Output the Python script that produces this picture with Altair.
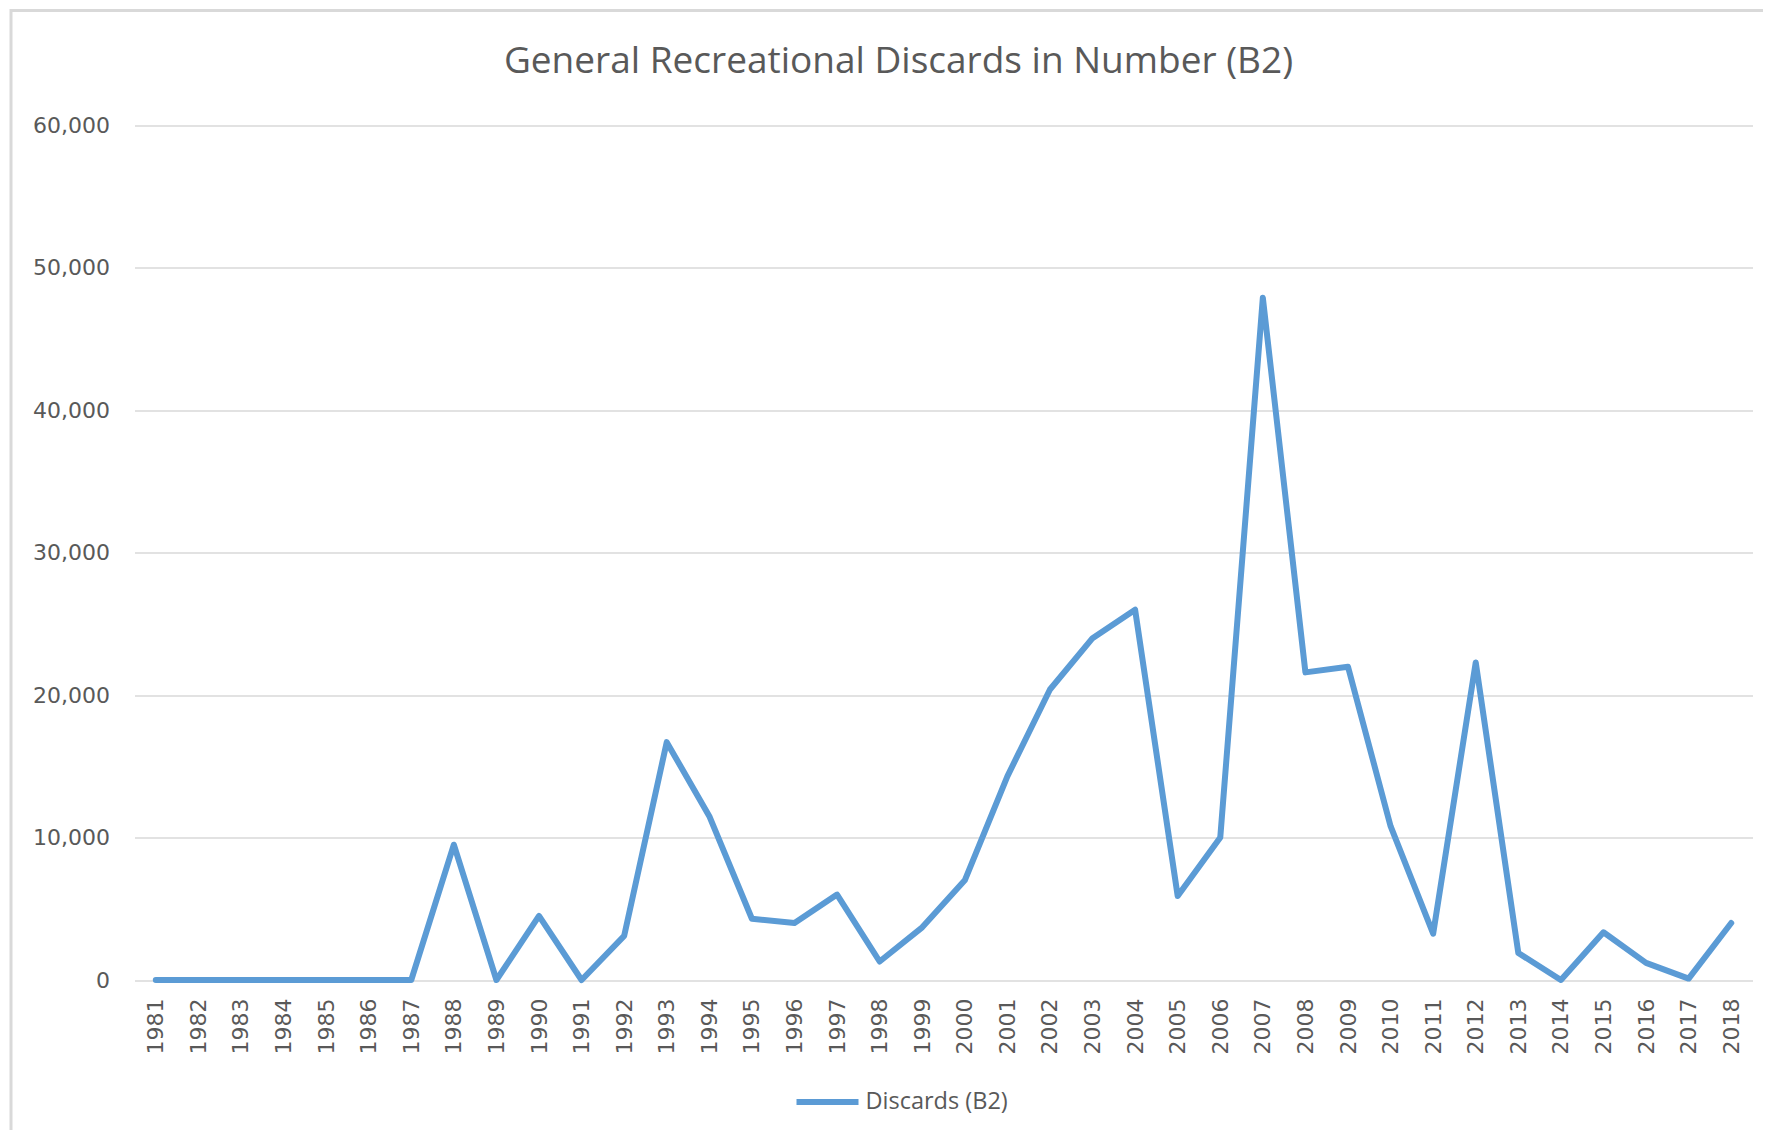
import altair as alt
import pandas as pd

years = list(range(1981, 2019))
discards = [0, 0, 0, 0, 0, 0, 0, 9500, 0, 4500,
            0, 3100, 16700, 11500, 4300, 4000, 6000, 1300, 3700, 7000,
            14300, 20400, 24000, 26000, 5900, 10000, 47900, 21600, 22000, 10800,
            3250, 22300, 1900, 0, 3350, 1200, 100, 4000]
series_name = "Discards (B2)"
y_ticks = [0, 10000, 20000, 30000, 40000, 50000, 60000]

df = pd.DataFrame({"year": years, "value": discards, "series": series_name})

GRAY_TXT = "#595959"
GRID = "#d9d9d9"
BLUE = "#5b9bd5"

W, H = 1618, 854.5

line = alt.Chart(df).mark_line(
    strokeWidth=6, strokeCap="round", strokeJoin="round"
).encode(
    x=alt.X("year:O", scale=alt.Scale(padding=0.5), title=None,
            axis=alt.Axis(labelAngle=270, labelFont="DejaVu Sans", labelFontSize=22,
                          labelColor=GRAY_TXT, ticks=False, tickSize=0, domain=False,
                          grid=False, labelPadding=18, labelAlign="right",
                          labelBaseline="middle")),
    y=alt.Y("value:Q", scale=alt.Scale(domain=[0, 60000], nice=False), title=None,
            axis=alt.Axis(values=y_ticks, format=",.0f", labelFont="DejaVu Sans",
                          labelFontSize=22, labelColor=GRAY_TXT, ticks=False,
                          domain=False, grid=True, gridColor=GRID, gridWidth=1.5,
                          labelPadding=25)),
    color=alt.Color("series:N", scale=alt.Scale(range=[BLUE]),
                    legend=alt.Legend(title=None, orient="none", legendX=659,
                                      legendY=942.5, symbolType="stroke",
                                      symbolSize=3844, symbolStrokeWidth=6,
                                      labelFont="Open Sans", labelFontSize=23.5,
                                      labelColor=GRAY_TXT, labelOffset=4,
                                      padding=0)),
)

frame = alt.Chart(alt.Data(values=[{}])).mark_rect(
    fill=None, stroke=GRID, strokeWidth=3
).encode(
    x=alt.value(-123.5), x2=alt.value(1700), y=alt.value(-115), y2=alt.value(1200)
)

chart = alt.layer(frame, line).properties(
    width=W, height=H,
    background="white",
    padding={"left": 126.5, "top": 117.5, "right": 10, "bottom": 150},
    autosize=alt.AutoSizeParams(type="none"),
    title=alt.TitleParams("General Recreational Discards in Number (B2)",
                          font="Open Sans", fontSize=37, fontWeight="normal",
                          color=GRAY_TXT, anchor="middle", frame="group", dx=-45,
                          baseline="alphabetic", offset=-101),
).configure_view(strokeWidth=0, stroke="transparent")

chart.save("out.html", embed_options={"renderer": "svg", "actions": False})
